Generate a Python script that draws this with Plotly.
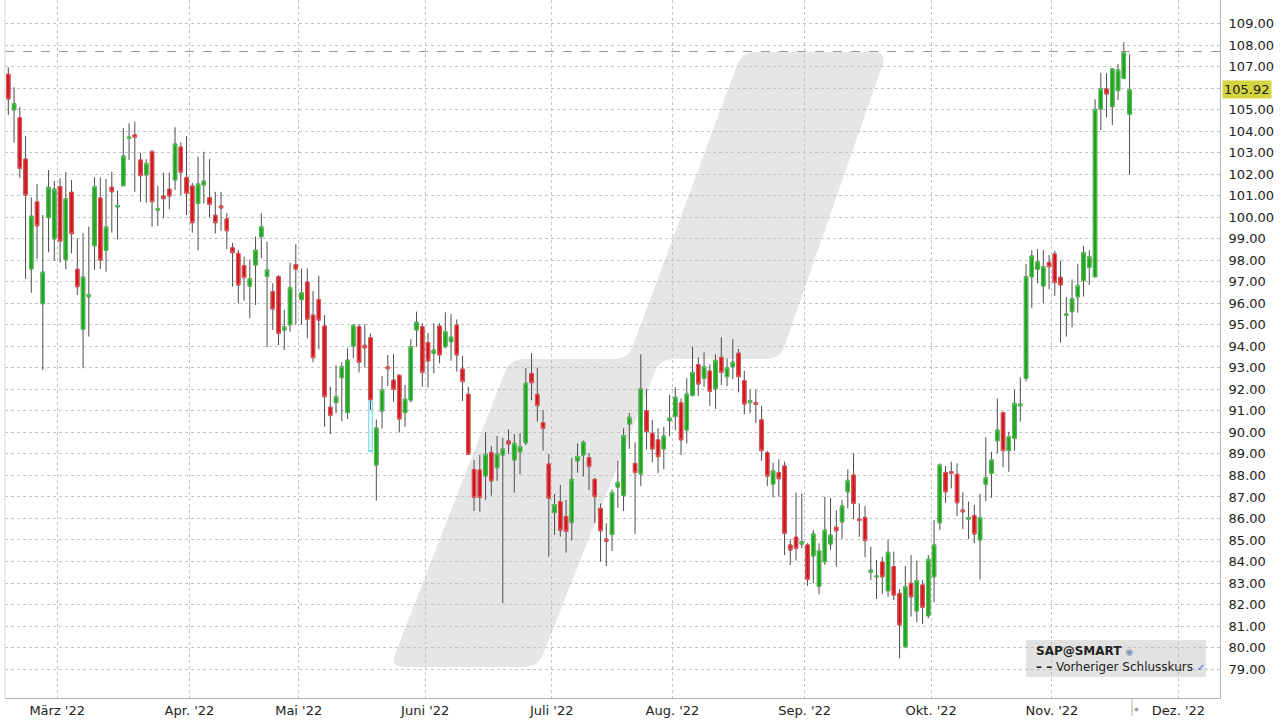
import math
import numpy as np
import pandas as pd
import plotly.graph_objects as go

# ---------------- data ----------------
open_ = [106.64, 104.99, 104.62, 102.70, 97.59, 100.71, 95.98, 99.98, 98.99, 101.42,
         98.02, 101.16, 97.58, 94.79, 96.30, 98.67, 100.89, 98.46, 101.39, 100.48,
         101.46, 103.66, 103.83, 102.66, 101.96, 103.04, 100.33, 100.98, 101.30, 101.73,
         103.26, 101.85, 101.45, 100.64, 101.50, 100.91, 100.09, 100.52, 99.92, 98.58,
         98.32, 97.75, 96.80, 97.78, 99.09, 97.24, 96.54, 97.23, 94.76, 95.00,
         97.79, 96.17, 96.99, 95.45, 96.18, 94.94, 91.17, 91.38, 92.54, 90.92,
         94.01, 94.91, 94.05, 94.40, 88.48, 90.99, 93.04, 92.43, 92.65, 90.92,
         91.50, 94.76, 94.91, 94.17, 93.67, 94.94, 93.98, 94.21, 94.99, 92.94,
         91.77, 88.28, 88.25, 87.97, 89.07, 88.36, 88.95, 89.60, 88.72, 89.10,
         89.52, 92.74, 91.77, 90.45, 88.53, 86.27, 86.78, 86.09, 85.80, 88.68,
         88.95, 88.82, 87.82, 86.47, 85.04, 85.26, 87.46, 87.08, 90.39, 88.56,
         88.07, 91.01, 89.96, 89.65, 89.23, 90.54, 90.73, 91.38, 90.11, 91.72,
         93.15, 92.51, 92.85, 92.02, 93.49, 92.59, 93.05, 93.68, 92.40, 91.38,
         91.38, 90.58, 89.06, 87.60, 88.13, 88.44, 84.77, 85.13, 84.81, 84.77,
         84.26, 82.85, 83.99, 84.81, 85.59, 85.84, 87.24, 88.02, 85.97, 86.05,
         83.50, 83.28, 83.98, 82.64, 83.76, 82.52, 80.04, 82.99, 81.70, 82.91,
         81.48, 83.29, 85.80, 88.14, 88.17, 88.05, 86.39, 85.97, 86.13, 85.00,
         87.59, 88.10, 89.61, 90.91, 89.15, 89.73, 91.24, 92.51, 97.23, 97.58,
         96.80, 97.90, 98.29, 97.21, 95.44, 95.61, 96.30, 97.05, 97.67, 97.23,
         105.03, 105.96, 105.13, 105.88, 106.45, 104.78]
high = [106.96, 106.04, 105.13, 103.77, 100.92, 101.54, 100.10, 102.19, 101.68, 101.81,
        102.10, 101.73, 99.02, 99.25, 99.56, 101.85, 101.85, 101.77, 102.11, 101.23,
        104.14, 104.36, 104.44, 103.00, 102.69, 103.12, 101.45, 102.07, 102.07, 104.18,
        103.48, 103.77, 101.60, 102.81, 103.04, 102.70, 101.18, 101.18, 100.18, 98.81,
        98.47, 98.16, 98.04, 99.10, 100.18, 98.86, 96.93, 97.31, 95.69, 97.89,
        98.74, 97.62, 97.62, 96.57, 97.28, 95.45, 92.12, 93.13, 93.26, 93.91,
        95.04, 95.04, 95.02, 94.60, 90.60, 92.62, 93.59, 93.64, 92.70, 92.20,
        94.33, 95.61, 95.07, 94.63, 95.07, 95.07, 95.58, 95.50, 95.25, 93.56,
        92.12, 88.72, 88.95, 90.00, 89.37, 89.83, 89.75, 90.14, 89.92, 89.96,
        92.98, 93.68, 93.01, 91.04, 89.00, 87.14, 87.56, 86.86, 88.82, 89.49,
        89.62, 89.03, 87.87, 86.70, 85.78, 87.36, 88.67, 90.19, 90.91, 89.54,
        93.63, 92.02, 90.57, 90.19, 90.26, 91.74, 92.10, 91.58, 92.51, 93.98,
        93.49, 93.72, 93.16, 93.63, 94.42, 93.44, 94.33, 93.87, 92.87, 92.00,
        92.00, 91.23, 89.15, 88.59, 88.75, 88.64, 85.03, 87.20, 87.16, 84.85,
        85.46, 84.85, 87.01, 86.96, 86.39, 86.86, 88.28, 89.03, 86.70, 86.58,
        84.69, 84.07, 84.22, 85.00, 84.46, 82.72, 83.79, 84.30, 84.04, 83.14,
        84.30, 85.93, 88.56, 88.44, 88.64, 88.56, 87.22, 86.78, 86.63, 87.14,
        89.77, 89.10, 91.58, 90.96, 90.03, 91.97, 92.56, 97.82, 98.47, 98.51,
        98.47, 98.24, 98.44, 97.98, 96.28, 97.11, 97.82, 98.66, 98.47, 105.48,
        106.71, 106.69, 106.92, 107.12, 108.13, 107.57]
low = [104.75, 103.46, 101.83, 97.13, 96.49, 98.06, 92.90, 98.37, 97.98, 97.89,
       97.58, 98.32, 96.38, 92.98, 94.45, 97.55, 97.59, 97.47, 99.28, 98.97,
       101.45, 102.66, 101.18, 100.72, 100.67, 99.56, 99.59, 99.95, 100.37, 101.26,
       101.03, 100.10, 99.28, 98.47, 100.64, 100.00, 99.25, 99.37, 98.51, 96.77,
       96.00, 96.12, 95.30, 95.92, 98.09, 93.95, 94.76, 94.06, 93.83, 94.68,
       95.02, 94.99, 94.37, 93.26, 93.86, 90.26, 89.92, 90.89, 90.53, 90.62,
       93.45, 92.79, 93.02, 91.04, 86.83, 90.19, 92.15, 91.43, 89.99, 90.26,
       91.40, 93.98, 92.12, 92.08, 92.74, 93.21, 93.91, 93.33, 92.82, 91.46,
       88.95, 86.35, 86.31, 86.86, 87.06, 87.75, 82.06, 89.00, 87.20, 88.05,
       89.41, 91.50, 90.50, 89.15, 84.22, 85.23, 85.15, 84.41, 84.97, 88.13,
       87.94, 87.32, 85.78, 84.00, 83.79, 84.49, 86.50, 86.35, 89.23, 85.28,
       87.50, 89.21, 88.61, 88.10, 88.28, 89.83, 90.11, 88.95, 89.49, 91.66,
       91.69, 92.12, 91.23, 91.09, 92.20, 92.15, 92.47, 91.86, 90.84, 90.89,
       90.42, 88.68, 87.50, 86.98, 87.01, 84.30, 83.84, 84.04, 84.61, 82.86,
       82.99, 82.48, 83.84, 84.53, 83.76, 85.05, 86.47, 85.97, 85.15, 84.20,
       83.14, 82.26, 82.49, 82.36, 82.21, 79.50, 79.97, 81.44, 81.18, 81.10,
       81.36, 82.10, 85.46, 86.73, 87.40, 86.11, 85.50, 85.04, 84.85, 83.17,
       86.81, 86.96, 89.03, 88.38, 88.17, 89.15, 90.50, 92.36, 95.77, 96.93,
       96.00, 96.65, 96.34, 94.17, 94.45, 94.88, 95.56, 96.31, 96.85, 97.20,
       104.05, 104.64, 104.28, 105.45, 106.45, 101.99]
close = [105.49, 105.27, 102.27, 101.03, 100.05, 99.60, 97.45, 101.39, 101.30, 98.89,
         100.86, 99.23, 96.77, 97.22, 96.40, 101.42, 98.01, 99.54, 101.18, 100.53,
         102.84, 103.72, 103.71, 101.93, 102.50, 100.72, 100.40, 100.86, 100.98, 103.40,
         102.09, 101.11, 99.74, 101.54, 101.68, 100.60, 99.74, 100.43, 99.37, 98.35,
         96.85, 97.19, 97.14, 98.47, 99.56, 97.55, 95.73, 94.60, 94.90, 96.72,
         97.58, 96.49, 95.25, 93.47, 95.22, 91.66, 90.78, 91.66, 93.05, 93.36,
         94.96, 93.26, 93.93, 91.50, 90.21, 91.97, 92.96, 92.00, 90.62, 91.54,
         93.98, 95.12, 92.79, 93.32, 93.83, 93.60, 94.68, 94.43, 93.60, 92.36,
         88.98, 86.98, 86.98, 88.98, 87.75, 89.00, 89.23, 89.46, 89.49, 89.33,
         92.28, 92.31, 91.24, 90.19, 86.94, 86.65, 85.46, 85.40, 87.82, 88.88,
         89.55, 88.41, 87.01, 85.43, 84.94, 87.20, 87.68, 89.85, 90.70, 88.13,
         92.02, 90.03, 89.23, 88.87, 89.83, 90.66, 91.63, 89.65, 91.78, 92.79,
         92.25, 93.05, 91.91, 93.35, 92.79, 93.01, 93.26, 92.59, 91.32, 91.47,
         91.30, 89.15, 87.97, 88.21, 87.85, 85.31, 84.53, 84.61, 84.92, 83.17,
         85.28, 84.49, 85.46, 85.23, 85.43, 86.58, 87.77, 86.70, 85.91, 84.97,
         83.60, 83.33, 83.29, 84.43, 82.44, 81.05, 82.83, 82.36, 83.11, 81.87,
         84.10, 84.77, 88.48, 87.24, 88.10, 86.73, 86.31, 86.04, 85.28, 86.04,
         87.89, 88.72, 90.11, 89.15, 89.80, 91.35, 91.32, 97.23, 98.20, 97.93,
         97.70, 97.70, 96.96, 96.85, 95.50, 96.21, 96.83, 98.35, 98.16, 105.01,
         105.96, 105.72, 106.89, 106.84, 107.66, 105.92]

prev_close = 107.70                      # "Vorheriger Schlusskurs"
instrument = "SAP@SMART"
first_day = "2022-02-16"
exchange_holidays = ["2022-04-15", "2022-04-18", "2022-12-26"]
month_labels = ["März '22", "Apr. '22", "Mai '22", "Juni '22", "Juli '22",
                "Aug. '22", "Sep. '22", "Okt. '22", "Nov. '22", "Dez. '22"]
month_numbers = [3, 4, 5, 6, 7, 8, 9, 10, 11, 12]
price_ticks = list(range(79, 110))
# highlighted (selected) candle, drawn in cyan in the reference
hl_day = 63
hl_top, hl_bottom = 91.47, 89.10

# ---------------- trading calendar ----------------
cal = [d for d in pd.bdate_range(first_day, "2022-12-30")
       if d.strftime("%Y-%m-%d") not in exchange_holidays]
n = len(close)
dates = cal[:n]
idx = list(range(n))
month_pos = []
for m in month_numbers:
    first = next(i for i, d in enumerate(cal) if d.month == m)
    month_pos.append(first - 0.5)

o = np.array(open_); c = np.array(close)
body_hi = np.maximum(o, c); body_lo = np.minimum(o, c)
hover = [d.strftime("%d.%m.%Y") for d in dates]

GREEN = "#1ea51e"; GREEN_L = "#57c257"
RED = "#d3161c"; RED_L = "#e6575b"
WICK = "#4d4d4d"
FONT = "DejaVu Sans"

fig = go.Figure()
# wicks (+ bodies)
fig.add_trace(go.Candlestick(
    x=idx, open=open_, high=high, low=low, close=close, text=hover,
    increasing=dict(line=dict(color=WICK, width=1), fillcolor=GREEN),
    decreasing=dict(line=dict(color=WICK, width=1), fillcolor=RED),
    whiskerwidth=0, name=instrument, hoverinfo="text+y"))
# bodies with lighter outline
fig.add_trace(go.Candlestick(
    x=idx, open=open_, high=body_hi, low=body_lo, close=close,
    increasing=dict(line=dict(color=GREEN_L, width=1), fillcolor=GREEN),
    decreasing=dict(line=dict(color=RED_L, width=1), fillcolor=RED),
    whiskerwidth=0, hoverinfo="skip"))
# highlighted candle outline
fig.add_trace(go.Candlestick(
    x=[hl_day], open=[hl_top], high=[hl_top], low=[hl_bottom], close=[hl_bottom],
    increasing=dict(line=dict(color="#5fd3e6", width=1), fillcolor="rgba(255,255,255,0)"),
    decreasing=dict(line=dict(color="#5fd3e6", width=1), fillcolor="rgba(255,255,255,0)"),
    whiskerwidth=0, hoverinfo="skip"))

# ---------------- layout geometry ----------------
W, H = 1280, 720
ML, MR, MT, MB = 5, 60, 0, 22
PX0, PX1, PY0, PY1 = ML, W - MR, MT, H - MB
slot = 5.75
x0_px = 8.3
xr = [(PX0 - x0_px) / slot, (PX1 - x0_px) / slot]
ppu = 21.52
yr = [109 - (PY1 - 23.5) / ppu, 109 - (PY0 - 23.5) / ppu]


def px_to_data(px, py):
    return (px - x0_px) / slot, 109 - (py - 23.5) / ppu


def paper(px, py):
    return (px - PX0) / (PX1 - PX0), (PY1 - py) / (PY1 - PY0)


def rounded_path(pts, r):
    m = len(pts)
    corners = []
    for k in range(m):
        vx, vy = pts[k]
        px_, py_ = pts[k - 1]
        nx, ny = pts[(k + 1) % m]
        d1 = math.hypot(px_ - vx, py_ - vy); d2 = math.hypot(nx - vx, ny - vy)
        a = (vx + r * (px_ - vx) / d1, vy + r * (py_ - vy) / d1)
        b = (vx + r * (nx - vx) / d2, vy + r * (ny - vy) / d2)
        corners.append((a, (vx, vy), b))
    def f(p):
        x, y = px_to_data(*p)
        return f"{x:.4f},{y:.4f}"
    path = "M " + f(corners[0][2])
    for k in list(range(1, m)) + [0]:
        a, v, b = corners[k]
        path += f" L {f(a)} Q {f(v)} {f(b)}"
    return path + " Z"

# background logo (decoration)
logo_pts = [(390, 667), (538, 667), (660, 359), (780, 359), (887, 52),
            (742, 52), (628, 359), (510, 359)]
shapes = [dict(type="path", path=rounded_path(logo_pts, 14), xref="x", yref="y",
               fillcolor="#e6e6e6", line=dict(width=0), layer="below")]
# previous close dashed line
shapes.append(dict(type="line", xref="x domain", yref="y", x0=0, x1=1,
                   y0=prev_close, y1=prev_close,
                   line=dict(color="#9a9a9a", width=1, dash="dash"), layer="above"))
# thin left border of the plot area
shapes.append(dict(type="line", xref="paper", yref="paper", x0=0, x1=0, y0=0, y1=1,
                   line=dict(color="#d8d8d8", width=1), layer="above"))
# legend box
lx0, ly0 = paper(1026, 677); lx1, ly1 = paper(1206, 640)
shapes.append(dict(type="rect", xref="paper", yref="paper", x0=lx0, x1=lx1, y0=ly0, y1=ly1,
                   fillcolor="rgba(185,185,185,0.42)", line=dict(width=0), layer="above"))
# "today" marker below the axis
mx, _ = paper(1132, 0)
shapes.append(dict(type="line", xref="paper", yref="paper", x0=mx, x1=mx,
                   y0=0, y1=paper(0, 716)[1], line=dict(color="#b0b0b0", width=1)))

annotations = []
ax_, ay_ = paper(1034, 651)
annotations.append(dict(xref="paper", yref="paper", x=ax_, y=ay_, xanchor="left",
                        yanchor="middle", showarrow=False,
                        text=f"<b>{instrument}</b> <span style='color:#7b93b0;font-size:9px'>◉</span>",
                        font=dict(family=FONT, size=12, color="#222")))
ax_, ay_ = paper(1034, 667)
annotations.append(dict(xref="paper", yref="paper", x=ax_, y=ay_, xanchor="left",
                        yanchor="middle", showarrow=False,
                        text="<b>– –</b> Vorheriger Schlusskurs <span style='color:#3a6fd8;font-size:10px'>✓</span>",
                        font=dict(family=FONT, size=12, color="#222")))
ax_, ay_ = paper(1136, 708)
annotations.append(dict(xref="paper", yref="paper", x=ax_, y=ay_, xanchor="center",
                        yanchor="middle", showarrow=False, text="◆",
                        font=dict(family=FONT, size=6, color="#999")))
# last price badge
annotations.append(dict(xref="paper", yref="y", x=1.0, y=close[-1], xanchor="left",
                        yanchor="middle", xshift=2, showarrow=False,
                        text=f"{close[-1]:.2f}", bgcolor="#d4d43e", borderpad=1,
                        font=dict(family=FONT, size=13, color="#222")))

tick_text = [("" if v == 106 else f"{v:.2f}") for v in price_ticks]

fig.update_layout(
    width=W, height=H, margin=dict(l=ML, r=MR, t=MT, b=MB),
    paper_bgcolor="white", plot_bgcolor="white", showlegend=False,
    boxmode="overlay", boxgap=0.15,
    font=dict(family=FONT, size=13, color="#222"),
    xaxis=dict(range=xr, tickvals=month_pos, ticktext=month_labels,
               showgrid=True, gridcolor="#c4c4c4", griddash="dot", gridwidth=1,
               zeroline=False, ticks="", showline=True, linecolor="#b4b4b4",
               rangeslider=dict(visible=False), tickfont=dict(family=FONT, size=13, color="#222")),
    yaxis=dict(range=yr, side="right", tickvals=price_ticks, ticktext=tick_text,
               showgrid=True, gridcolor="#c4c4c4", griddash="dot", gridwidth=1,
               zeroline=False, ticks="", showline=True, linecolor="#b4b4b4",
               ticklabelstandoff=5, tickfont=dict(family=FONT, size=13, color="#222")),
    shapes=shapes, annotations=annotations,
)

fig.write_html("out.html", config={"displayModeBar": False},
               post_script="document.body.style.margin='0';"
                           "document.documentElement.style.overflow='hidden';")
